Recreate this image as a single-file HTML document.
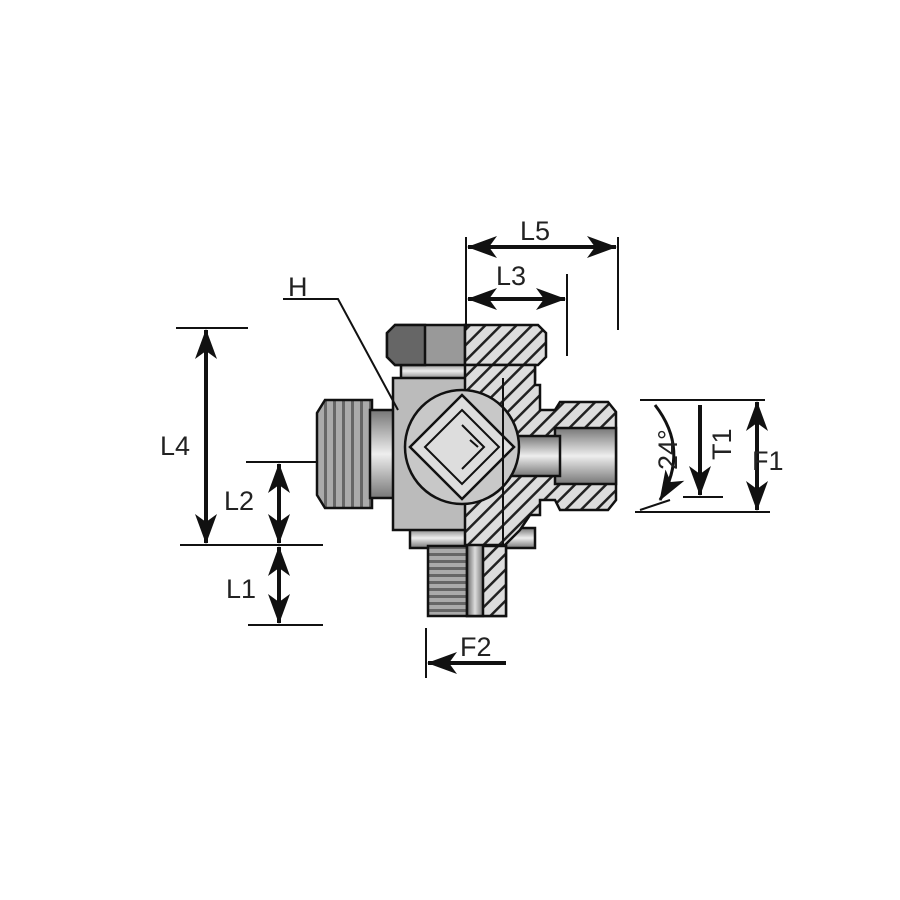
<!DOCTYPE html>
<html><head><style>body{margin:0;background:#fff}svg{display:block}text{font-family:"Liberation Sans",sans-serif;font-size:27px;fill:#222}</style></head>
<body>
<svg width="900" height="900" viewBox="0 0 900 900">
<defs>
<pattern id="h" width="11" height="11" patternUnits="userSpaceOnUse" patternTransform="rotate(45)">
<rect width="11" height="11" fill="#ddd"/><rect width="2.5" height="11" fill="#222"/></pattern>
<linearGradient id="g" x1="0" y1="0" x2="0" y2="1"><stop offset="0" stop-color="#777"/><stop offset=".5" stop-color="#eee"/><stop offset="1" stop-color="#777"/></linearGradient>
<linearGradient id="gv" x1="0" y1="0" x2="1" y2="0"><stop offset="0" stop-color="#666"/><stop offset=".5" stop-color="#ddd"/><stop offset="1" stop-color="#777"/></linearGradient>
<pattern id="th" width="9" height="8" patternUnits="userSpaceOnUse"><rect width="9" height="8" fill="#aaa"/><rect width="3" height="8" fill="#666"/></pattern>
<pattern id="tv" width="8" height="7" patternUnits="userSpaceOnUse"><rect width="8" height="7" fill="#aaa"/><rect width="8" height="3" fill="#666"/></pattern>
<marker id="a" viewBox="0 0 30 22" refX="29" refY="11" markerWidth="30" markerHeight="22" markerUnits="userSpaceOnUse" orient="auto-start-reverse"><path d="M0,0 L30,11 L0,22 L8,11z" fill="#111"/></marker>
</defs>
<g stroke="#111" stroke-width="2.5">
<rect x="410" y="528" width="125" height="20" fill="url(#g)"/>
<rect x="428" y="546" width="78" height="70" fill="url(#tv)"/>
<rect x="467" y="546" width="39" height="70" fill="url(#h)"/>
<rect x="467" y="510" width="16" height="106" fill="url(#gv)"/>
<path d="M325,400 L372,400 L372,508 L325,508 L317,495 L317,413Z" fill="url(#th)"/>
<rect x="370" y="410" width="28" height="88" fill="url(#g)"/>
<rect x="401" y="362" width="134" height="18" fill="url(#g)"/>
<path d="M395,325 L465,325 L465,365 L395,365 L387,357 L387,333Z" fill="#999"/>
<path d="M387,333 L395,325 L425,325 L425,365 L395,365 L387,357Z" fill="#666"/>
<path d="M465,325 L538,325 L546,333 L546,357 L538,365 L465,365Z" fill="url(#h)"/>
<rect x="393" y="378" width="75" height="152" fill="#bbb"/>
<path d="M465,365 L535,365 L535,385 L540,385 L540,410 L555,410 L560,402 L608,402 L616,412 L616,500 L608,510 L560,510 L555,500 L540,500 L540,515 L530,515 L520,530 L505,545 L465,545Z" fill="url(#h)"/>
<rect x="555" y="428" width="61" height="56" fill="url(#g)"/>
<rect x="505" y="436" width="55" height="40" fill="url(#g)"/>
<circle cx="462" cy="447" r="57" fill="#c8c8c8"/>
<path d="M462,395 L514,447 L462,499 L410,447Z" fill="#ddd"/>
<path d="M462,410 L499,447 L462,484 L425,447Z M462,425 L484,447 L462,469 M470,440 L478,447" fill="none" stroke-width="2"/>
<line x1="503" y1="378" x2="503" y2="545" stroke-width="2"/>
</g>
<g stroke="#111" stroke-width="2" fill="none">
<line x1="466" y1="237" x2="466" y2="330"/><line x1="618" y1="237" x2="618" y2="330"/><line x1="567" y1="274" x2="567" y2="356"/>
<line x1="468" y1="247" x2="616" y2="247" stroke-width="4" marker-start="url(#a)" marker-end="url(#a)"/>
<line x1="468" y1="299" x2="565" y2="299" stroke-width="4" marker-start="url(#a)" marker-end="url(#a)"/>
<polyline points="283,299 338,299 398,410"/>
<line x1="176" y1="328" x2="248" y2="328"/><line x1="180" y1="545" x2="323" y2="545"/>
<line x1="246" y1="462" x2="316" y2="462"/><line x1="248" y1="625" x2="323" y2="625"/>
<line x1="206" y1="330" x2="206" y2="543" stroke-width="4" marker-start="url(#a)" marker-end="url(#a)"/>
<line x1="279" y1="464" x2="279" y2="543" stroke-width="4" marker-start="url(#a)" marker-end="url(#a)"/>
<line x1="279" y1="547" x2="279" y2="623" stroke-width="4" marker-start="url(#a)" marker-end="url(#a)"/>
<line x1="426" y1="628" x2="426" y2="678"/>
<line x1="506" y1="663" x2="428" y2="663" stroke-width="4" marker-end="url(#a)"/>
<line x1="640" y1="400" x2="765" y2="400"/><line x1="635" y1="512" x2="770" y2="512"/>
<line x1="757" y1="402" x2="757" y2="510" stroke-width="4" marker-start="url(#a)" marker-end="url(#a)"/>
<line x1="683" y1="497" x2="723" y2="497"/>
<line x1="700" y1="405" x2="700" y2="495" stroke-width="4" marker-end="url(#a)"/>
<path d="M655,405 Q690,450 660,500" stroke-width="3" marker-end="url(#a)"/>
<line x1="640" y1="510" x2="670" y2="500"/>
</g>
<text x="520" y="240">L5</text><text x="496" y="285">L3</text><text x="288" y="296">H</text>
<text x="160" y="455">L4</text><text x="224" y="510">L2</text><text x="226" y="598">L1</text>
<text x="460" y="656">F2</text><text x="752" y="470">F1</text>
<text transform="translate(731,460) rotate(-90)">T1</text>
<text transform="translate(677,470) rotate(-90)">24°</text>
</svg>
</body></html>
